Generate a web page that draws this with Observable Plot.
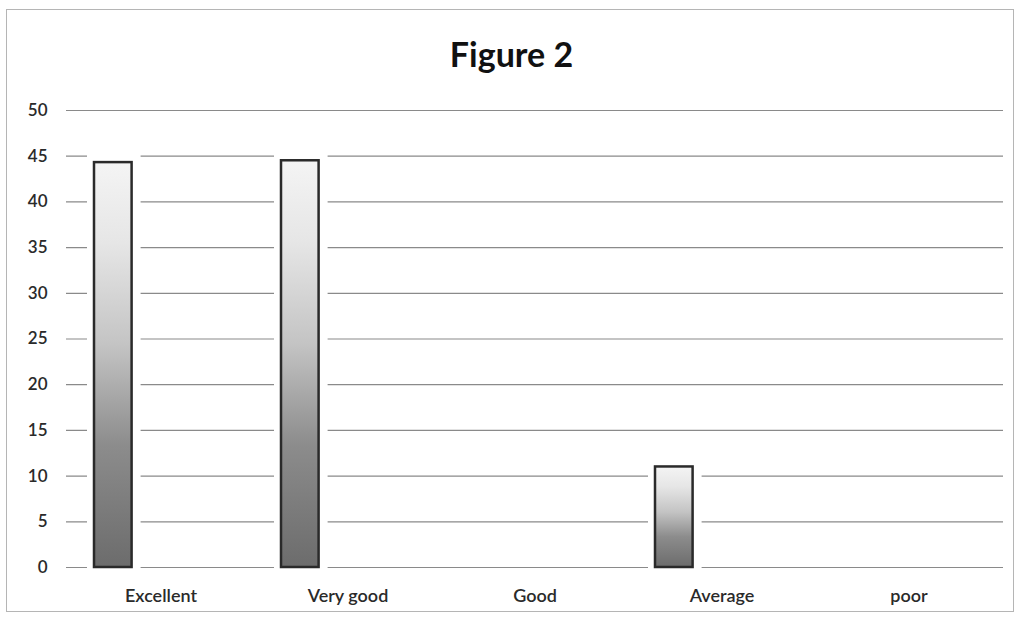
<!DOCTYPE html>
<html>
<head>
<meta charset="utf-8">
<script src="https://cdn.jsdelivr.net/npm/d3@7"></script>
<script src="https://cdn.jsdelivr.net/npm/@observablehq/plot@0.6"></script>
<style>
  html, body { margin: 0; padding: 0; background: #fff; }
  #frame { position: absolute; left: 6px; top: 9px; width: 1008px; height: 603px; border: 1px solid #b5b5b5; box-sizing: border-box; }
  #title { position: absolute; left: 0; top: 33px; width: 1023px; text-align: center; font-family: Lato, sans-serif; font-weight: bold; font-size: 34px; color: #111; }
  #chart { position: absolute; left: 0; top: 90px; }
</style>
</head>
<body>
<div id="frame"></div>
<div id="title">Figure 2</div>
<div id="chart"></div>
<script>
const categories = ["Excellent", "Very good", "Good", "Average", "poor"];
const values = [44.3, 44.5, 0, 11, 0];
const yTicks = [0, 5, 10, 15, 20, 25, 30, 35, 40, 45, 50];

const data = categories.map((c, i) => ({category: c, value: values[i]}));

const bandW = (1003 - 66) / categories.length;
const barLeft = 27, barWidth = 38;

const plot = Plot.plot({
  width: 1023,
  height: 530,
  marginLeft: 66,
  marginRight: 20,
  marginTop: 20,
  marginBottom: 53,
  style: {fontFamily: "Lato, sans-serif", fontSize: "17px", fontWeight: 600, color: "#2a2a2a", background: "transparent"},
  x: {domain: categories, padding: 0, label: null, tickSize: 0, tickPadding: 22},
  y: {domain: [0, 50], ticks: yTicks, label: null, tickSize: 0, tickPadding: 19},
  marks: [
    Plot.ruleY(yTicks, {stroke: "#8a8a8a", strokeWidth: 1.2}),
    Plot.barY(data.filter(d => d.value > 0), {x: "category", y: "value", fill: "white",
      insetLeft: barLeft - 7, insetRight: bandW - barLeft - barWidth - 9, insetTop: -8, insetBottom: -3}),
    Plot.barY(data, {x: "category", y: "value", fill: "url(#barGrad)", stroke: "#2a2a2a", strokeWidth: 2.5,
      insetLeft: barLeft, insetRight: bandW - barLeft - barWidth})
  ]
});

plot.querySelectorAll("g[aria-label='x-axis tick label'] text").forEach(t => t.style.fontSize = "18px");

const defs = document.createElementNS("http://www.w3.org/2000/svg", "defs");
defs.innerHTML = `<linearGradient id="barGrad" x1="0" y1="1" x2="0" y2="0">
  <stop offset="0" stop-color="#6c6c6c"/>
  <stop offset="0.3" stop-color="#8c8c8c"/>
  <stop offset="0.55" stop-color="#c4c4c4"/>
  <stop offset="0.8" stop-color="#e6e6e6"/>
  <stop offset="1" stop-color="#f4f4f4"/>
</linearGradient>`;
plot.insertBefore(defs, plot.firstChild);
document.getElementById("chart").appendChild(plot);
</script>
</body>
</html>
